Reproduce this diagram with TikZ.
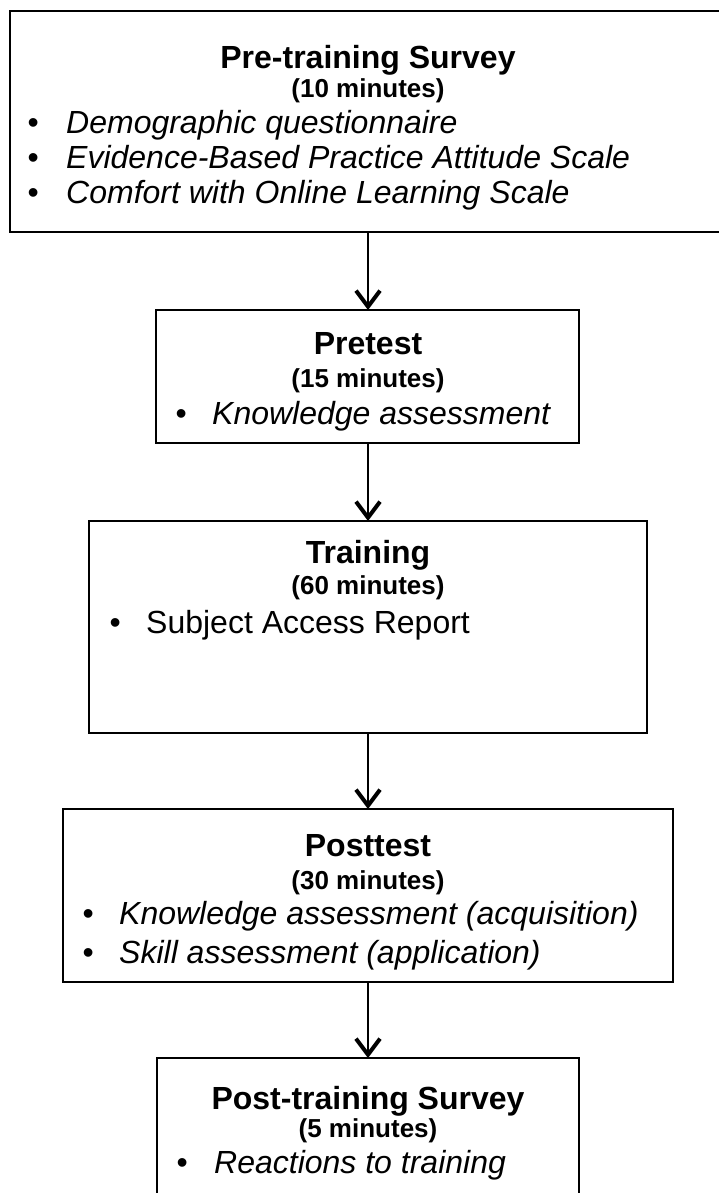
\documentclass[tikz,border=0pt]{standalone}
\usepackage{fontspec}
\setmainfont{Liberation Sans}
\usetikzlibrary{arrows.meta}
\begin{document}
\begin{tikzpicture}[x=1pt,y=-1pt,
  box/.style={draw=black,line width=2.5pt,rectangle,inner sep=0pt,outer sep=0pt},
  arr/.style={line width=2pt,-{Straight Barb[length=16pt,width=24pt,line width=4pt]}},
  ttl/.style={anchor=base,inner sep=0pt,font=\fontsize{32}{36}\selectfont\bfseries},
  sub/.style={anchor=base,inner sep=0pt,font=\fontsize{26}{30}\selectfont\bfseries},
  bul/.style={anchor=base west,inner sep=0pt,font=\fontsize{32}{36}\selectfont},
  itm/.style={anchor=base west,inner sep=0pt,font=\fontsize{32}{36}\selectfont\itshape},
  itu/.style={anchor=base west,inner sep=0pt,font=\fontsize{32}{36}\selectfont}]
\useasboundingbox (0,0) rectangle (718,1193);
% boxes
\node[box,minimum width=716pt,minimum height=221pt] (b1) at (368,121.5) {};
\node[box,minimum width=423pt,minimum height=133pt] (b2) at (367.5,376.5) {};
\node[box,minimum width=558pt,minimum height=212pt] (b3) at (368,627) {};
\node[box,minimum width=610pt,minimum height=173pt] (b4) at (368,895.5) {};
\node[box,minimum width=422pt,minimum height=172pt] (b5) at (368,1144) {};
% arrows
\draw[arr] (b1.south) -- (b1.south |- b2.north);
\draw[arr] (b2.south -| b3.north) -- (b3.north);
\draw[arr] (b3.south) -- (b4.north);
\draw[arr] (b4.south) -- (b5.north);
% box 1
\node[ttl] (t1) at (368,68.5) {Pre-training Survey};
\node[sub] (s1) at (368,97.4) {(10 minutes)};
\node[bul] (p1a) at (27.4,134) {•};
\node[itm] (i1a) at (66,134) {Demographic questionnaire};
\node[bul] (p1b) at (27.4,168) {•};
\node[itm] (i1b) at (66,168) {Evidence-Based Practice Attitude Scale};
\node[bul] (p1c) at (27.4,204) {•};
\node[itm] (i1c) at (66,204) {Comfort with Online Learning Scale};
% box 2
\node[ttl] (t2) at (368,354.5) {Pretest};
\node[sub] (s2) at (368,387.4) {(15 minutes)};
\node[bul] (p2a) at (175.4,424.5) {•};
\node[itm] (i2a) at (212,424.5) {Knowledge assessment};
% box 3
\node[ttl] (t3) at (368,563.5) {Training};
\node[sub] (s3) at (368,594.4) {(60 minutes)};
\node[bul] (p3a) at (109.4,633.5) {•};
\node[itu] (i3a) at (146,633.5) {Subject Access Report};
% box 4
\node[ttl] (t4) at (368,856.5) {Posttest};
\node[sub] (s4) at (368,889.4) {(30 minutes)};
\node[bul] (p4a) at (82.4,924.5) {•};
\node[itm] (i4a) at (119,924.5) {Knowledge assessment (acquisition)};
\node[bul] (p4b) at (82.4,963.5) {•};
\node[itm] (i4b) at (119,963.5) {Skill assessment (application)};
% box 5
\node[ttl] (t5) at (368,1109.5) {Post-training Survey};
\node[sub] (s5) at (368,1137.4) {(5 minutes)};
\node[bul] (p5a) at (176.4,1173.5) {•};
\node[itm] (i5a) at (214,1173.5) {Reactions to training};
\end{tikzpicture}
\end{document}
